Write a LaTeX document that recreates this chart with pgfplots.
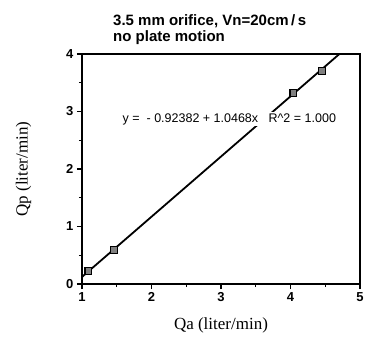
\documentclass[border=0pt]{standalone}
\usepackage{fontspec}
\setmainfont{Liberation Serif}
\setsansfont{Liberation Sans}
\usepackage{pgfplots}
\pgfplotsset{compat=1.18}
\begin{document}
\begin{tikzpicture}
\begin{axis}[
  scale only axis, width=278pt, height=230pt,
  at={(0,0)}, anchor=south west,
  xmin=1, xmax=5, ymin=0, ymax=4,
  xtick={1,2,3,4,5}, ytick={0,1,2,3,4},
  minor x tick num=1, minor y tick num=1,
  tick align=outside, xtick pos=left, ytick pos=left,
  major tick length=5pt, minor tick length=3pt,
  axis line style={line width=1.6pt},
  every tick/.style={black, line width=1.3pt},
  /pgf/number format/assume math mode=true,
  ticklabel style={font=\sffamily\bfseries\fontsize{13}{14}\selectfont},
  xlabel={Qa (liter/min)}, ylabel={Qp (liter/min)},
  every axis x label/.style={at={(axis description cs:0.5,-0.178)}, anchor=center, font=\fontsize{17}{19}\selectfont},
  every axis y label/.style={at={(axis description cs:-0.21,0.5)}, anchor=center, rotate=90, font=\fontsize{17}{19}\selectfont},
  clip=true,
]
\addplot[black, line width=1.8pt] coordinates {(1,0.1230) (4.7037,4)};
\addplot[only marks, mark=square*, mark size=3.3pt, mark options={fill=gray, draw=black, line width=1.1pt}] coordinates {
(1.09,0.225) (1.46,0.595) (4.04,3.32) (4.45,3.70)};
\node[fill=white, inner sep=1.5pt, font=\sffamily\fontsize{12.5}{13}\selectfont] at (axis cs:3.12,2.87) {y =\ \ - 0.92382 + 1.0468x\ \ \ R\textasciicircum 2 = 1.000};
\end{axis}
\node[anchor=north west, align=left, font=\sffamily\bfseries\fontsize{15}{16}\selectfont, inner sep=0pt] at (31pt,270pt) {3.5 mm orifice, Vn=20cm\,/\,s\\no plate motion};
\pgfresetboundingbox
\useasboundingbox (-82pt,-53pt) rectangle (284pt,284pt);
\end{tikzpicture}
\end{document}
